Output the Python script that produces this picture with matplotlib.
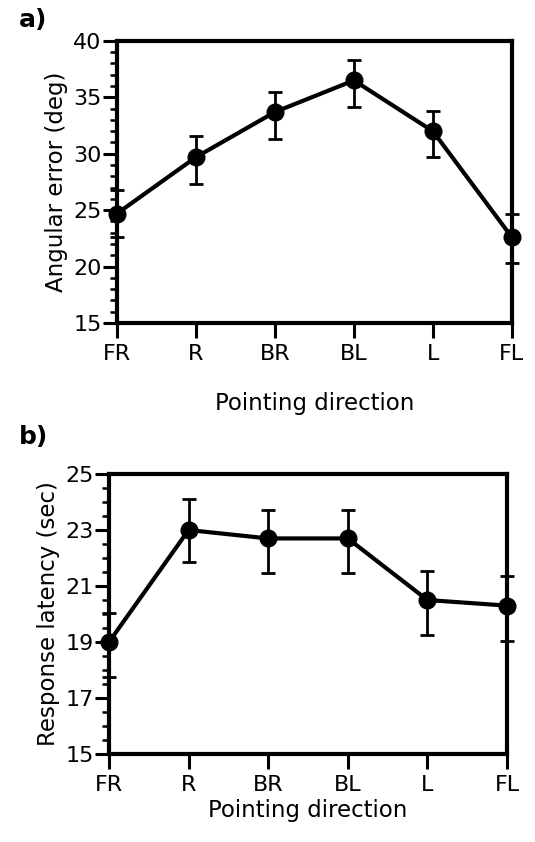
import matplotlib
matplotlib.use("Agg")
import matplotlib.pyplot as plt
from matplotlib.ticker import MultipleLocator

plt.rcParams['font.family'] = ['DejaVu Sans']

directions = ["FR", "R", "BR", "BL", "L", "FL"]

# a) angular error (deg)
err_mean = [24.7, 29.7, 33.7, 36.5, 32.0, 22.6]
err_lo = [22.6, 27.3, 31.3, 34.1, 29.7, 20.3]
err_hi = [26.8, 31.6, 35.5, 38.3, 33.8, 24.7]
err_ticks = [15, 20, 25, 30, 35, 40]

# b) response latency (sec)
lat_mean = [19.0, 23.0, 22.7, 22.7, 20.5, 20.3]
lat_lo = [17.75, 21.85, 21.45, 21.45, 19.25, 19.05]
lat_hi = [20.05, 24.1, 23.72, 23.72, 21.52, 21.35]
lat_ticks = [15, 17, 19, 21, 23, 25]


def draw_panel(ax, mean, lo, hi, yticks, minor, ylabel):
    x = list(range(len(directions)))
    yerr = [[m - l for m, l in zip(mean, lo)], [h - m for m, h in zip(mean, hi)]]
    ax.errorbar(x, mean, yerr=yerr, color='black', lw=3, marker='o', ms=12,
                elinewidth=2, capsize=5, capthick=2, clip_on=False, zorder=5)
    ax.set_xlim(0, len(directions) - 1)
    ax.set_ylim(yticks[0], yticks[-1])
    ax.set_xticks(x)
    ax.set_xticklabels(directions)
    ax.set_yticks(yticks)
    ax.yaxis.set_minor_locator(MultipleLocator(minor))
    for s in ax.spines.values():
        s.set_linewidth(3)
    ax.tick_params(axis='both', which='major', direction='out', width=2.2, labelsize=16)
    ax.tick_params(axis='x', which='major', length=11, pad=4)
    ax.tick_params(axis='y', which='major', length=10, pad=1)
    ax.tick_params(axis='y', which='minor', direction='out', length=5, width=1.8)
    ax.set_ylabel(ylabel, fontsize=16.5, labelpad=4)


fig = plt.figure(figsize=(5.35, 8.42), dpi=100)

ax1 = fig.add_axes([0.2187, 0.6164, 0.738, 0.335])
draw_panel(ax1, err_mean, err_lo, err_hi, err_ticks, 1, "Angular error (deg)")
ax1.set_xlabel("Pointing direction", fontsize=16.5, labelpad=20)
fig.text(0.035, 0.99, "a)", fontsize=18, fontweight='bold', va='top')

ax2 = fig.add_axes([0.2037, 0.1045, 0.744, 0.3325])
draw_panel(ax2, lat_mean, lat_lo, lat_hi, lat_ticks, 0.5, "Response latency (sec)")
ax2.set_xlabel("Pointing direction", fontsize=16.5, labelpad=3)
fig.text(0.035, 0.495, "b)", fontsize=18, fontweight='bold', va='top')

fig.savefig("out.png", dpi=100)
